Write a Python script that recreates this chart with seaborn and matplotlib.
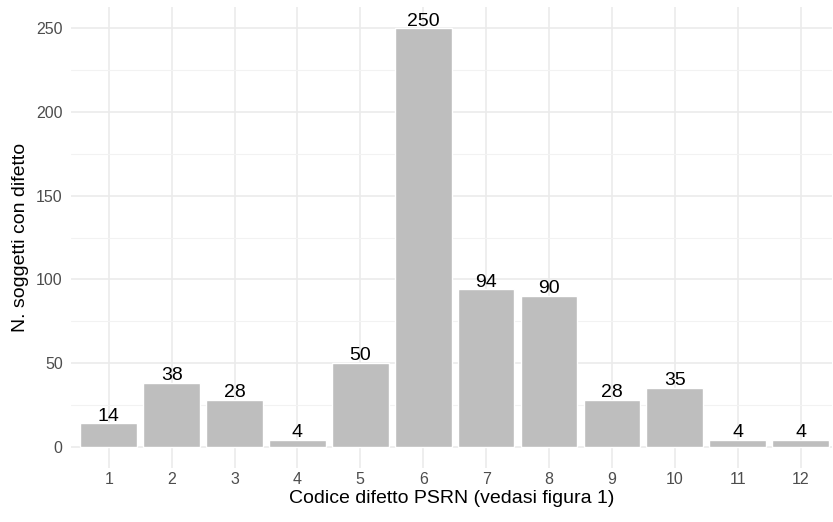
import numpy as np
import pandas as pd
import matplotlib
matplotlib.use("Agg")
import matplotlib.pyplot as plt
import seaborn as sns
from matplotlib.ticker import MultipleLocator

# ==============================
# DATI
# ==============================
codici = ["1", "2", "3", "4", "5", "6", "7", "8", "9", "10", "11", "12"]
n_soggetti = [14, 38, 28, 4, 50, 250, 94, 90, 28, 35, 4, 4]

df = pd.DataFrame({"codice": codici, "n": n_soggetti})

# ==============================
# STILE
# ==============================
sns.set_theme(style="white")
plt.rcParams["font.family"] = ["Liberation Sans", "DejaVu Sans"]

fig = plt.figure(figsize=(8.33, 5.22), dpi=100)
ax = fig.add_axes([71 / 833, 1 - 467.6 / 522, 761 / 833, 460.2 / 522])

sns.barplot(
    data=df,
    x="codice",
    y="n",
    order=codici,
    color="#BEBEBE",
    saturation=1,
    width=0.9,
    ax=ax,
    zorder=2
)

for c in ax.containers:
    ax.bar_label(c, padding=-1, fontsize=14, color="black")

ax.set_xlim(-0.6, 11.5)
ax.set_ylim(-12.5, 262.5)
ax.yaxis.set_major_locator(MultipleLocator(50))
ax.yaxis.set_minor_locator(MultipleLocator(25))

ax.grid(which="major", axis="both", color="#EBEBEB", linewidth=1.2, zorder=0)
ax.grid(which="minor", axis="y", color="#F2F2F2", linewidth=0.8, zorder=0)
ax.set_axisbelow(True)

for s in ax.spines.values():
    s.set_visible(False)

ax.tick_params(axis="both", which="both", length=0, labelsize=11.5, colors="#4D4D4D")
ax.tick_params(axis="x", pad=3)
ax.tick_params(axis="y", pad=6)

ax.set_xlabel("Codice difetto PSRN (vedasi figura 1)", fontsize=14, color="black", labelpad=2)
ax.set_ylabel("N. soggetti con difetto", fontsize=14, color="black", labelpad=5)

fig.savefig("out.png", dpi=100)
